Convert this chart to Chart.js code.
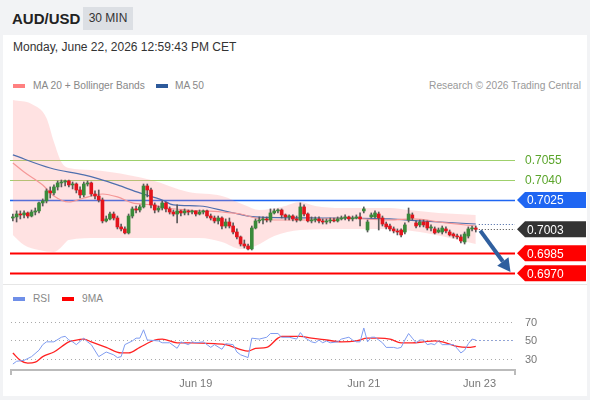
<!DOCTYPE html>
<html>
<head>
<meta charset="utf-8">
<script src="https://cdn.jsdelivr.net/npm/chart.js@4.4.0/dist/chart.umd.min.js"></script>
<style>
  body { margin:0; width:590px; height:400px; background:#f2f3f5; font-family:"Liberation Sans", Arial, sans-serif; position:relative; overflow:hidden; }
  .abs { position:absolute; white-space:nowrap; }
  #card { position:absolute; left:3px; top:35px; width:584px; height:361px; background:#fff; }
  #sep { position:absolute; left:3px; top:284px; width:584px; height:1px; background:#e6e6e6; }
  .sw { position:absolute; width:12px; height:4px; }
  .lg { position:absolute; font-size:10.2px; color:#888; white-space:nowrap; }
  canvas { position:absolute; left:0; }
</style>
</head>
<body>
<div id="card"></div>
<div class="abs" style="left:12px;top:10px;font-size:15px;font-weight:bold;color:#222;">AUD/USD</div>
<div class="abs" style="left:83px;top:7px;width:50px;height:23px;line-height:23px;background:#dcdfe4;font-size:12px;color:#333;text-align:center;">30 MIN</div>
<div class="abs" style="left:13px;top:40px;font-size:12px;color:#333;">Monday, June 22, 2026 12:59:43 PM CET</div>

<div class="sw" style="left:13px;top:84px;background:#ff8080;"></div>
<div class="lg" style="left:33px;top:80px;">MA 20 + Bollinger Bands</div>
<div class="sw" style="left:156px;top:84px;background:#2d5a9b;"></div>
<div class="lg" style="left:175px;top:80px;">MA 50</div>
<div class="lg" style="right:9px;top:80px;color:#999;">Research © 2026 Trading Central</div>

<div id="sep"></div>
<div class="sw" style="left:13px;top:297px;background:#6f8fe8;"></div>
<div class="lg" style="left:33px;top:293px;">RSI</div>
<div class="sw" style="left:62px;top:297px;background:#f00;"></div>
<div class="lg" style="left:82px;top:293px;">9MA</div>

<canvas id="main" width="590" height="190" style="top:95px;"></canvas>
<canvas id="rsi" width="590" height="90" style="top:305px;"></canvas>

<script>
// 30 min candles, AUD/USD
const opens = [
  0.70115,0.70123,0.70145,0.70138,0.70153,0.70130,0.70160,0.70168,0.70228,0.70243,
  0.70318,0.70303,0.70348,0.70378,0.70385,0.70393,0.70363,0.70370,0.70325,0.70288,
  0.70370,0.70378,0.70295,0.70280,0.70250,0.70093,0.70108,0.70145,0.70115,0.70048,
  0.70033,0.70003,0.70130,0.70183,0.70175,0.70198,0.70355,0.70325,0.70213,0.70175,
  0.70190,0.70228,0.70183,0.70160,0.70145,0.70168,0.70153,0.70168,0.70160,0.70168,
  0.70145,0.70160,0.70168,0.70130,0.70115,0.70093,0.70115,0.70055,0.70085,0.70055,
  0.70010,0.69973,0.69920,0.69905,0.69883,0.70040,0.70093,0.70100,0.70108,0.70100,
  0.70153,0.70168,0.70175,0.70138,0.70123,0.70130,0.70108,0.70100,0.70198,0.70145,
  0.70093,0.70100,0.70108,0.70093,0.70085,0.70093,0.70100,0.70093,0.70108,0.70115,
  0.70123,0.70108,0.70115,0.70123,0.70168,0.70025,0.70123,0.70123,0.70145,0.70115,
  0.70070,0.70055,0.70033,0.70018,0.70025,0.70010,0.70100,0.70138,0.70078,0.70063,
  0.70085,0.70085,0.70040,0.70033,0.70010,0.70010,0.70033,0.70010,0.69995,0.69980,
  0.69973,0.69935,0.69980,0.70033,0.70040
];
const closes = [
  0.70123,0.70145,0.70138,0.70153,0.70130,0.70160,0.70168,0.70228,0.70243,0.70318,
  0.70303,0.70348,0.70378,0.70385,0.70393,0.70363,0.70370,0.70325,0.70288,0.70370,
  0.70378,0.70295,0.70280,0.70250,0.70093,0.70108,0.70145,0.70115,0.70048,0.70033,
  0.70003,0.70130,0.70183,0.70175,0.70198,0.70355,0.70325,0.70213,0.70175,0.70190,
  0.70228,0.70183,0.70160,0.70145,0.70168,0.70153,0.70168,0.70160,0.70168,0.70145,
  0.70160,0.70168,0.70130,0.70115,0.70093,0.70115,0.70055,0.70085,0.70055,0.70010,
  0.69973,0.69920,0.69905,0.69883,0.70040,0.70093,0.70100,0.70108,0.70100,0.70153,
  0.70168,0.70175,0.70138,0.70123,0.70130,0.70108,0.70100,0.70198,0.70145,0.70093,
  0.70100,0.70108,0.70093,0.70085,0.70093,0.70100,0.70093,0.70108,0.70115,0.70123,
  0.70108,0.70115,0.70123,0.70108,0.70183,0.70085,0.70138,0.70153,0.70115,0.70070,
  0.70048,0.70033,0.70018,0.70010,0.69988,0.70063,0.70145,0.70115,0.70055,0.70085,
  0.70063,0.70040,0.70048,0.70003,0.70025,0.70040,0.70018,0.69988,0.69980,0.69973,
  0.69943,0.69995,0.70033,0.70040,0.70030
];
const highs = [
  0.70145,0.70168,0.70168,0.70168,0.70160,0.70175,0.70190,0.70235,0.70258,0.70333,
  0.70348,0.70363,0.70393,0.70400,0.70400,0.70400,0.70385,0.70378,0.70348,0.70385,
  0.70393,0.70385,0.70318,0.70325,0.70265,0.70130,0.70160,0.70160,0.70130,0.70070,
  0.70048,0.70145,0.70198,0.70205,0.70213,0.70370,0.70370,0.70340,0.70228,0.70205,
  0.70243,0.70235,0.70198,0.70175,0.70213,0.70175,0.70183,0.70175,0.70175,0.70168,
  0.70175,0.70175,0.70175,0.70145,0.70130,0.70130,0.70123,0.70108,0.70115,0.70078,
  0.70033,0.69980,0.69950,0.69920,0.70055,0.70108,0.70123,0.70123,0.70123,0.70183,
  0.70183,0.70183,0.70183,0.70145,0.70138,0.70138,0.70130,0.70228,0.70213,0.70153,
  0.70123,0.70123,0.70123,0.70108,0.70108,0.70115,0.70115,0.70123,0.70130,0.70138,
  0.70130,0.70130,0.70138,0.70153,0.70198,0.70100,0.70153,0.70168,0.70160,0.70130,
  0.70085,0.70070,0.70048,0.70033,0.70033,0.70078,0.70190,0.70153,0.70093,0.70100,
  0.70100,0.70093,0.70063,0.70048,0.70040,0.70055,0.70048,0.70025,0.70003,0.69995,
  0.69988,0.70010,0.70048,0.70055,0.70055
];
const lows = [
  0.70093,0.70085,0.70108,0.70115,0.70115,0.70123,0.70138,0.70153,0.70205,0.70228,
  0.70265,0.70288,0.70325,0.70348,0.70355,0.70348,0.70333,0.70303,0.70265,0.70273,
  0.70355,0.70280,0.70258,0.70235,0.70078,0.70085,0.70100,0.70100,0.70033,0.70018,
  0.69995,0.69995,0.70115,0.70153,0.70160,0.70190,0.70273,0.70190,0.70153,0.70160,
  0.70175,0.70160,0.70145,0.70130,0.70078,0.70130,0.70138,0.70138,0.70145,0.70130,
  0.70138,0.70145,0.70115,0.70100,0.70078,0.70070,0.70033,0.70040,0.70040,0.69995,
  0.69958,0.69905,0.69890,0.69875,0.69875,0.70033,0.70078,0.70070,0.70085,0.70085,
  0.70145,0.70153,0.70115,0.70100,0.70100,0.70093,0.70085,0.70093,0.70130,0.70085,
  0.70078,0.70085,0.70078,0.70070,0.70070,0.70078,0.70085,0.70085,0.70100,0.70100,
  0.70093,0.70093,0.70108,0.70055,0.70153,0.70010,0.70115,0.70115,0.70025,0.70055,
  0.70033,0.70018,0.70003,0.69988,0.69973,0.69995,0.70085,0.70100,0.70040,0.70048,
  0.70048,0.70025,0.70018,0.69995,0.70003,0.69995,0.70003,0.69980,0.69965,0.69958,
  0.69928,0.69920,0.69965,0.70018,0.70010
];

// indicators, read at candle index
const ma20Idx = [0,3,8,11,15,19,24,28,32,37,41,47,56,61,65,70,79,88,101,107,116,124];
const ma20 = [0.70528,0.7046,0.70363,0.7028,0.70235,0.70265,0.70295,0.70273,0.70228,0.70213,0.7019,0.70175,0.7016,0.70145,0.70115,0.701,0.701,0.70115,0.701,0.70108,0.70078,0.70055];
const ma50Idx = [0,10,19,23,28,34,40,43,50,58,65,83,101,109,124];
const ma50 = [0.70588,0.7049,0.70438,0.70408,0.70363,0.70303,0.7025,0.70213,0.70205,0.7016,0.70123,0.70115,0.70108,0.70093,0.7007];
const upperIdx = [0,5,9,11,13,15,21,26,37,47,56,62,66,72,77,81,88,101,106,114,124];
const upper = [0.7100,0.7097,0.70865,0.70685,0.70535,0.7049,0.70475,0.7046,0.7040,0.7031,0.7028,0.70213,0.70175,0.70198,0.70235,0.70205,0.7019,0.7019,0.70175,0.70153,0.70138];
const lowerIdx = [0,3,7,11,13,15,23,34,50,56,61,65,70,77,88,101,109,117,124];
const lower = [0.69988,0.69913,0.69875,0.6986,0.69898,0.6995,0.69965,0.69965,0.69965,0.69935,0.69883,0.69905,0.6998,0.70025,0.70033,0.70033,0.7001,0.69965,0.6992];

const rsiIdx = [0,1,3,5,7,8,9,11,13,14,15,16,17,19,20,21,23,25,27,28,29,30,32,33,34,35,36,39,40,42,44,45,47,48,49,51,53,54,56,57,59,60,61,63,64,66,68,69,71,72,74,76,77,78,80,81,82,83,84,85,87,88,89,90,91,92,93,94,95,96,97,98,99,100,102,103,104,105,106,107,108,109,110,111,112,113,114,115,116,118,119,120,121,122,123,124];
const rsi = [24,27,28,32,39,45,48,48,53,54,50,48,45,52,48,45,32,37,34,31,32,45,49,52,52,61,50,49,47,47,41,48,45,48,47,48,42,45,40,46,45,37,34,31,52,51,53,57,57,53,53,51,58,53,48,47,50,47,49,47,48,51,52,53,50,48,48,63,48,53,53,50,47,42,42,41,42,50,57,52,47,50,50,45,46,45,49,45,45,45,41,36,39,46,51,50];
const ma9Idx = [0,2,4,6,8,11,15,16,19,21,25,29,31,34,38,40,44,48,54,57,63,65,68,71,72,77,80,84,88,92,95,98,101,104,107,110,113,116,119,122,124];
const ma9 = [36,28,25,26,32,37,48,49,51,48,42,36,36,42,50,51,47,47,46,45,38,41,42,52,54,54,52,50,48,49,52,52,51,47,47,48,49,47,43,42,43];

// key levels
const resistances = [0.7055, 0.7040];
const pivot = 0.7025;
const supports = [0.6985, 0.6970];
const rsiLevels = [70, 50, 30];
const xTickIdx = [49, 94, 125];
const xTickLabels = ["Jun 19", "Jun 21", "Jun 23"];
const arrowFrom = { i: 125.2, p: 0.70020 };
const arrowTo = { i: 133.3, p: 0.69710 };

const slots = 135;
const FONT = "'Liberation Sans', Arial";
const pts = (idx, vals) => idx.map((v, k) => ({ x: v, y: vals[k] }));
const candleIdx = closes.map((c, i) => i);

function tag(ctx, x, y, fill, text) {
    ctx.fillStyle = fill;
    ctx.beginPath();
    ctx.moveTo(x, y);
    ctx.lineTo(x + 8, y - 8);
    ctx.lineTo(586, y - 8);
    ctx.lineTo(586, y + 8);
    ctx.lineTo(x + 8, y + 8);
    ctx.closePath();
    ctx.fill();
    ctx.fillStyle = "#fff";
    ctx.font = "12px " + FONT;
    ctx.textBaseline = "middle";
    ctx.fillText(text, x + 10, y + 1);
}

const levelsPlugin = {
    id: "levels",
    beforeDatasetsDraw(chart) {
        const { ctx, chartArea, scales } = chart;
        const line = (p, color, w) => {
            const y = Math.round(scales.y.getPixelForValue(p)) + 0.5;
            ctx.save();
            ctx.strokeStyle = color;
            ctx.lineWidth = w;
            ctx.beginPath();
            ctx.moveTo(chartArea.left - 1, y);
            ctx.lineTo(chartArea.right, y);
            ctx.stroke();
            ctx.restore();
        };
        resistances.forEach(p => line(p, "#9fd06c", 1));
        line(pivot, "#1f66f2", 1.5);
        supports.forEach(p => line(p, "#ff0000", 2));
    },
    afterDatasetsDraw(chart) {
        const { ctx, chartArea, scales } = chart;
        const x0 = chartArea.right + 2;
        const last = closes.length - 1;
        ctx.save();
        // dotted guides from last candle
        ctx.setLineDash([1, 2]);
        ctx.lineWidth = 1;
        const lx = scales.x.getPixelForValue(last) + 3;
        [[ma50[ma50.length - 1], "#3d5f9f"], [closes[last], "#444"]].forEach(([p, c]) => {
            const y = Math.round(scales.y.getPixelForValue(p)) + 0.5;
            ctx.strokeStyle = c;
            ctx.beginPath();
            ctx.moveTo(lx, y);
            ctx.lineTo(chartArea.right, y);
            ctx.stroke();
        });
        ctx.setLineDash([]);
        // labels
        ctx.font = "12px " + FONT;
        ctx.textBaseline = "middle";
        ctx.fillStyle = "#5ba52b";
        resistances.forEach(p => ctx.fillText(p.toFixed(4), x0 + 8, scales.y.getPixelForValue(p) + 1));
        tag(ctx, x0, scales.y.getPixelForValue(pivot), "#1f66f2", pivot.toFixed(4));
        tag(ctx, x0, scales.y.getPixelForValue(closes[last]), "#333", closes[last].toFixed(4));
        supports.forEach(p => tag(ctx, x0, scales.y.getPixelForValue(p), "#ff0000", p.toFixed(4)));
        // arrow
        const ax = scales.x.getPixelForValue(arrowFrom.i), ay = scales.y.getPixelForValue(arrowFrom.p);
        const bx = scales.x.getPixelForValue(arrowTo.i), by = scales.y.getPixelForValue(arrowTo.p);
        const ang = Math.atan2(by - ay, bx - ax);
        const hl = 13, hw = 7;
        const hx = bx - hl * Math.cos(ang), hy = by - hl * Math.sin(ang);
        ctx.strokeStyle = "#2f5f9f";
        ctx.fillStyle = "#2f5f9f";
        ctx.lineWidth = 4;
        ctx.beginPath();
        ctx.moveTo(ax, ay);
        ctx.lineTo(hx, hy);
        ctx.stroke();
        ctx.beginPath();
        ctx.moveTo(bx, by);
        ctx.lineTo(hx + hw * Math.sin(ang), hy - hw * Math.cos(ang));
        ctx.lineTo(hx - hw * Math.sin(ang), hy + hw * Math.cos(ang));
        ctx.closePath();
        ctx.fill();
        ctx.restore();
    }
};

new Chart(document.getElementById("main"), {
    type: "bar",
    data: {
        datasets: [
            {
                type: "line", data: pts(upperIdx, upper), borderWidth: 0, pointRadius: 0,
                fill: "+1", backgroundColor: "rgba(255,140,140,0.25)", cubicInterpolationMode: "monotone", order: 10
            },
            {
                type: "line", data: pts(lowerIdx, lower), borderWidth: 0, pointRadius: 0,
                fill: false, cubicInterpolationMode: "monotone", order: 10
            },
            {
                type: "line", data: pts(ma20Idx, ma20), borderColor: "#f59898", borderWidth: 1.2,
                pointRadius: 0, fill: false, cubicInterpolationMode: "monotone", order: 5
            },
            {
                type: "line", data: pts(ma50Idx, ma50), borderColor: "#4f6fae", borderWidth: 1.2,
                pointRadius: 0, fill: false, cubicInterpolationMode: "monotone", order: 5
            },
            {
                data: candleIdx.map(i => ({ x: i, y: [lows[i], highs[i]] })),
                backgroundColor: "#5a5a5a", barThickness: 1, grouped: false, order: 2
            },
            {
                data: candleIdx.map(i => ({ x: i, y: [opens[i], closes[i]] })),
                backgroundColor: candleIdx.map(i => closes[i] >= opens[i] ? "#3a8a3a" : "#e3141c"),
                barThickness: 3, minBarLength: 1, grouped: false, order: 1
            }
        ]
    },
    options: {
        responsive: false,
        animation: false,
        events: [],
        layout: { padding: { left: 11, right: 75, top: 0, bottom: 0 } },
        plugins: { legend: { display: false }, tooltip: { enabled: false } },
        scales: {
            x: { type: "linear", min: -0.5, max: slots - 0.5, offset: false, display: false },
            y: { min: 0.696125, max: 0.710375, display: false }
        }
    },
    plugins: [levelsPlugin]
});

const rsiPlugin = {
    id: "rsiDecor",
    beforeDatasetsDraw(chart) {
        const { ctx, chartArea, scales } = chart;
        ctx.save();
        ctx.setLineDash([1, 3]);
        ctx.strokeStyle = "#aaa";
        ctx.lineWidth = 1;
        ctx.font = "11px " + FONT;
        ctx.textBaseline = "middle";
        ctx.fillStyle = "#777";
        rsiLevels.forEach(v => {
            const y = Math.round(scales.y.getPixelForValue(v)) + 0.5;
            ctx.beginPath();
            ctx.moveTo(chartArea.left, y);
            ctx.lineTo(chartArea.right, y);
            ctx.stroke();
            ctx.fillText(String(v), chartArea.right + 10, y);
        });
        // extension of last RSI value
        const last = rsiIdx.length - 1;
        const y = Math.round(scales.y.getPixelForValue(rsi[last])) + 0.5;
        ctx.strokeStyle = "#6f8fe8";
        ctx.beginPath();
        ctx.moveTo(scales.x.getPixelForValue(rsiIdx[last]), y);
        ctx.lineTo(chartArea.right, y);
        ctx.stroke();
        ctx.setLineDash([]);
        // axis end ticks
        ctx.strokeStyle = "#bbb";
        ctx.lineWidth = 2;
        ctx.beginPath();
        ctx.moveTo(chartArea.left, chartArea.bottom);
        ctx.lineTo(chartArea.left, chartArea.bottom + 5);
        ctx.moveTo(chartArea.right, chartArea.bottom);
        ctx.lineTo(chartArea.right, chartArea.bottom + 5);
        ctx.stroke();
        ctx.restore();
    }
};

new Chart(document.getElementById("rsi"), {
    type: "line",
    data: {
        datasets: [
            {
                data: pts(rsiIdx, rsi), borderColor: "#7f9cf0", borderWidth: 1,
                pointRadius: 0, fill: false, tension: 0
            },
            {
                data: pts(ma9Idx, ma9), borderColor: "#f22", borderWidth: 1.3,
                pointRadius: 0, fill: false, cubicInterpolationMode: "monotone"
            }
        ]
    },
    options: {
        responsive: false,
        animation: false,
        events: [],
        layout: { padding: { left: 11, right: 75, top: 0, bottom: 0 } },
        plugins: { legend: { display: false }, tooltip: { enabled: false } },
        scales: {
            x: {
                type: "linear", min: -0.5, max: slots - 0.5,
                grid: { display: false, drawTicks: false },
                border: { display: true, color: "#bbb", width: 2 },
                afterBuildTicks: axis => { axis.ticks = xTickIdx.map(v => ({ value: v })); },
                afterFit: axis => { axis.height = 25; },
                ticks: {
                    autoSkip: false, maxRotation: 0, padding: 7, color: "#777",
                    font: { size: 11, family: FONT },
                    callback: v => xTickLabels[xTickIdx.indexOf(v)]
                }
            },
            y: { min: 17.57, max: 87.84, display: false }
        }
    },
    plugins: [rsiPlugin]
});
</script>
</body>
</html>
